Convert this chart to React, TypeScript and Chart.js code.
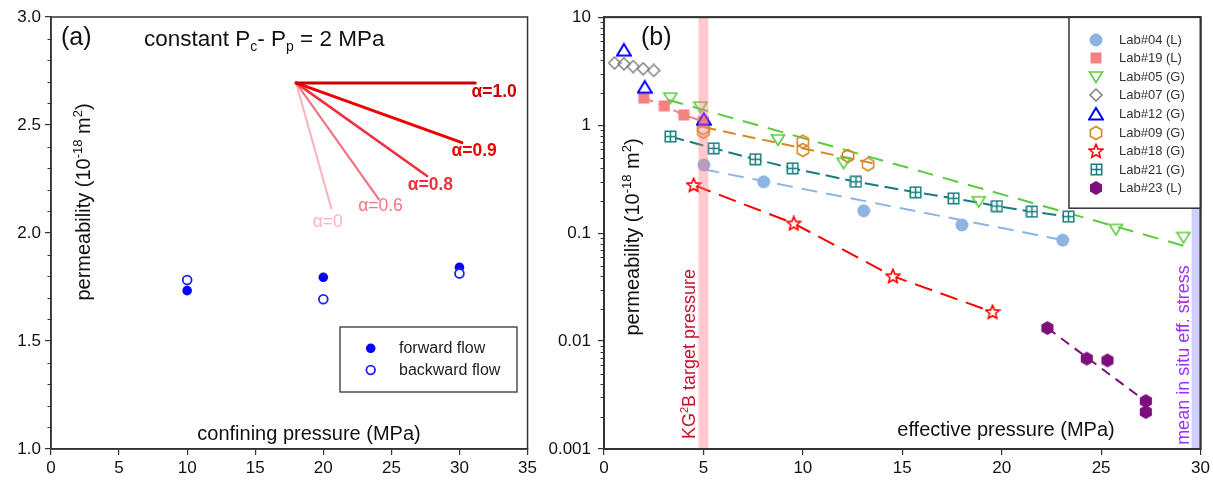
import React, { useEffect, useRef } from 'react';
import { Chart, registerables } from 'chart.js';
Chart.register(...registerables);

const FONT = "'Liberation Sans', Arial, Helvetica, sans-serif";

// ---------- Panel (a) data ----------
const confiningPressure = [10, 20, 30];
const forwardFlow = [1.733, 1.795, 1.841];
const backwardFlow = [1.782, 1.693, 1.813];
const fanOriginX = 18.0;
const fanOriginY = 2.695;
const fanAlphas = ['1.0', '0.9', '0.8', '0.6', '0'];
const fanEndX = [31.16, 30.18, 27.62, 24.08, 20.59];
const fanEndY = [2.695, 2.418, 2.264, 2.156, 2.114];
const fanLabelX = [32.55, 31.08, 27.86, 24.2, 20.32];
const fanLabelY = [2.65, 2.38, 2.222, 2.122, 2.051];
const xTicksA = [0, 5, 10, 15, 20, 25, 30, 35];
const yTicksA = [1.0, 1.5, 2.0, 2.5, 3.0];
const yTickLabelsA = ['1.0', '1.5', '2.0', '2.5', '3.0'];

// ---------- Panel (b) data ----------
const labNames = ['Lab#04 (L)', 'Lab#19 (L)', 'Lab#05 (G)', 'Lab#07 (G)', 'Lab#12 (G)', 'Lab#09 (G)', 'Lab#18 (G)', 'Lab#21 (G)', 'Lab#23 (L)'];
const lab04X = [5.02, 8.03, 13.06, 18.0, 23.07];
const lab04Y = [0.428, 0.299, 0.161, 0.119, 0.086];
const lab19X = [2.0, 3.04, 4.01, 5.0];
const lab19Y = [1.78, 1.51, 1.245, 1.08];
const lab05X = [3.34, 4.85, 8.75, 12.05, 18.84, 25.74, 29.14];
const lab05Y = [1.78, 1.47, 0.73, 0.444, 0.195, 0.108, 0.091];
const lab07X = [0.53, 1.0, 1.47, 1.97, 2.5];
const lab07Y = [3.76, 3.7, 3.49, 3.33, 3.21];
const lab12X = [1.0, 2.05, 5.02];
const lab12Y = [4.96, 2.25, 1.135];
const lab09X = [5.0, 5.0, 10.0, 10.0, 12.27, 13.28];
const lab09Y = [0.937, 0.87, 0.703, 0.589, 0.518, 0.434];
const lab18X = [4.51, 9.54, 14.53, 19.54];
const lab18Y = [0.279, 0.123, 0.0399, 0.0186];
const lab21X = [3.34, 5.52, 7.61, 9.49, 12.67, 15.67, 17.58, 19.76, 21.52, 23.36];
const lab21Y = [0.783, 0.61, 0.483, 0.398, 0.299, 0.239, 0.21, 0.178, 0.158, 0.142];
const lab23X = [22.3, 24.28, 25.32, 27.25, 27.25];
const lab23Y = [0.0132, 0.00687, 0.00662, 0.00278, 0.0022];
// trend lines (end points)
const trend04X = [5.0, 23.1];
const trend04Y = [0.39, 0.086];
const trend05X = [3.2, 29.3];
const trend05Y = [1.72, 0.075];
const trend09X = [5.0, 13.6];
const trend09Y = [0.96, 0.44];
const trend23X = [22.3, 27.2];
const trend23Y = [0.0132, 0.0028];
// marker bands
const targetPressure = [4.75, 5.25];
const inSituStress = [29.55, 30];
const xTicksB = [0, 5, 10, 15, 20, 25, 30];
const yTicksB = [0.001, 0.01, 0.1, 1, 10];
const yTickLabelsB = ['0.001', '0.01', '0.1', '1', '10'];

const pts = (xs: number[], ys: number[]) => xs.map((x, i) => ({ x, y: ys[i] }));

type Seg = { t: string; size: number; dy?: number; bold?: boolean };
function segFont(s: Seg) {
  return `${s.bold ? 'bold ' : ''}${s.size}px ${FONT}`;
}
function richWidth(ctx: CanvasRenderingContext2D, segs: Seg[]) {
  let w = 0;
  for (const s of segs) {
    ctx.font = segFont(s);
    w += ctx.measureText(s.t).width;
  }
  return w;
}
function drawRich(ctx: CanvasRenderingContext2D, segs: Seg[], x: number, y: number, align: 'left' | 'center', color: string) {
  ctx.fillStyle = color;
  ctx.textBaseline = 'alphabetic';
  ctx.textAlign = 'left';
  let cx = align === 'center' ? x - richWidth(ctx, segs) / 2 : x;
  for (const s of segs) {
    ctx.font = segFont(s);
    ctx.fillText(s.t, cx, y + (s.dy || 0));
    cx += ctx.measureText(s.t).width;
  }
}
function drawRotated(ctx: CanvasRenderingContext2D, segs: Seg[], cx: number, cy: number, color: string, base: number) {
  ctx.save();
  ctx.translate(cx, cy);
  ctx.rotate(-Math.PI / 2);
  drawRich(ctx, segs, 0, base, 'center', color);
  ctx.restore();
}

function mk(size: number, draw: (c: CanvasRenderingContext2D, s: number) => void) {
  const cv = document.createElement('canvas');
  cv.width = size;
  cv.height = size;
  const c = cv.getContext('2d')!;
  draw(c, size);
  return cv;
}
function hexPath(c: CanvasRenderingContext2D, cx: number, cy: number, r: number) {
  c.beginPath();
  for (let k = 0; k < 6; k++) {
    const a = (-90 + 60 * k) * Math.PI / 180;
    const px = cx + r * Math.cos(a);
    const py = cy + r * Math.sin(a);
    if (k === 0) c.moveTo(px, py); else c.lineTo(px, py);
  }
  c.closePath();
}
function starPath(c: CanvasRenderingContext2D, cx: number, cy: number, ro: number, ri: number) {
  c.beginPath();
  for (let k = 0; k < 10; k++) {
    const r = k % 2 === 0 ? ro : ri;
    const a = (-90 + 36 * k) * Math.PI / 180;
    const px = cx + r * Math.cos(a);
    const py = cy + r * Math.sin(a);
    if (k === 0) c.moveTo(px, py); else c.lineTo(px, py);
  }
  c.closePath();
}

const C04 = '#8db4e2';
const C19 = '#f4807f';
const C05 = '#5ccc3e';
const C07 = '#808080';
const C12 = '#0000ff';
const C09 = '#d4892a';
const C18 = '#ff0000';
const C21 = '#167d7f';
const C23 = '#7d0f7d';

function makeMarkers() {
  return [
    mk(14, (c) => { c.fillStyle = C04; c.beginPath(); c.arc(7, 7, 6.5, 0, Math.PI * 2); c.fill(); }),
    mk(12, (c) => { c.fillStyle = C19; c.fillRect(0.5, 0.5, 11, 11); }),
    mk(16, (c) => { c.strokeStyle = C05; c.lineWidth = 1.6; c.beginPath(); c.moveTo(1.5, 3); c.lineTo(14.5, 3); c.lineTo(8, 13.5); c.closePath(); c.stroke(); }),
    mk(14, (c) => { c.strokeStyle = C07; c.lineWidth = 1.5; c.beginPath(); c.moveTo(7, 1); c.lineTo(13, 7); c.lineTo(7, 13); c.lineTo(1, 7); c.closePath(); c.stroke(); }),
    mk(16, (c) => { c.strokeStyle = C12; c.lineWidth = 2; c.beginPath(); c.moveTo(8, 2); c.lineTo(15, 13.5); c.lineTo(1, 13.5); c.closePath(); c.stroke(); }),
    mk(16, (c) => { c.strokeStyle = C09; c.lineWidth = 1.6; hexPath(c, 8, 8, 6.5); c.stroke(); }),
    mk(16, (c) => { c.fillStyle = '#fff'; c.strokeStyle = C18; c.lineWidth = 1.6; starPath(c, 8, 8.5, 7.2, 3.2); c.fill(); c.stroke(); }),
    mk(13, (c) => {
      c.fillStyle = '#fff'; c.fillRect(1, 1, 11, 11);
      c.strokeStyle = C21; c.lineWidth = 1.5; c.strokeRect(1.25, 1.25, 10.5, 10.5);
      c.beginPath(); c.moveTo(6.5, 1); c.lineTo(6.5, 12); c.moveTo(1, 6.5); c.lineTo(12, 6.5); c.stroke();
    }),
    mk(16, (c) => { c.fillStyle = C23; hexPath(c, 8, 8, 7); c.fill(); }),
  ];
}

function frame(chart: any, color: string, lw: number) {
  const { ctx, chartArea: a } = chart;
  ctx.save();
  ctx.strokeStyle = color;
  ctx.lineWidth = lw;
  ctx.strokeRect(a.left, a.top, a.right - a.left, a.bottom - a.top);
  ctx.restore();
}
function minorTicks(chart: any, values: number[], len: number) {
  const { ctx, chartArea: a } = chart;
  const y = chart.scales.y;
  ctx.save();
  ctx.strokeStyle = '#333';
  ctx.lineWidth = 1;
  for (const v of values) {
    const py = Math.round(y.getPixelForValue(v)) + 0.5;
    ctx.beginPath();
    ctx.moveTo(a.left, py);
    ctx.lineTo(a.left - len, py);
    ctx.stroke();
  }
  ctx.restore();
}

function axisCommon(fit: (s: any) => void, pad: number) {
  return {
    ticks: { color: '#111', font: { size: 17, family: FONT }, padding: pad, maxRotation: 0, autoSkip: false },
    grid: { drawOnChartArea: false, drawTicks: true, tickLength: 6, color: '#333', lineWidth: 1.2 },
    border: { display: true, color: '#333', width: 1.5 },
    afterFit: fit,
  };
}

export default function App() {
  const refA = useRef<HTMLCanvasElement>(null);
  const refB = useRef<HTMLCanvasElement>(null);

  useEffect(() => {
    Chart.defaults.font.family = FONT;
    const charts: Chart[] = [];

    // ---------------- Panel (a) ----------------
    const fanColors = ['#cc0000', '#ee0000', '#f0303f', '#f27482', '#f9b4bc'];
    const fanWidths = [3, 3, 2.6, 2.2, 2];
    const fanBold = [true, true, true, false, false];
    const minorA: number[] = [];
    for (let v = 1.1; v < 3.0; v += 0.1) {
      const r = Math.round(v * 10) / 10;
      if (Math.abs(r * 2 - Math.round(r * 2)) > 1e-6) minorA.push(r);
    }

    const pluginA = {
      id: 'decorA',
      afterDraw(chart: any) {
        const { ctx } = chart;
        const xs = chart.scales.x;
        const ys = chart.scales.y;
        frame(chart, '#333', 1.5);
        minorTicks(chart, minorA, 3.5);
        fanAlphas.forEach((a, i) => {
          ctx.save();
          ctx.font = `${fanBold[i] ? 'bold ' : ''}17.5px ${FONT}`;
          ctx.fillStyle = fanColors[i];
          ctx.textAlign = 'center';
          ctx.textBaseline = 'middle';
          ctx.fillText('\u03b1=' + a, xs.getPixelForValue(fanLabelX[i]), ys.getPixelForValue(fanLabelY[i]));
          ctx.restore();
        });
        drawRich(ctx, [{ t: '(a)', size: 25 }], 61, 45, 'left', '#111');
        drawRich(ctx, [
          { t: 'constant P', size: 22.5 },
          { t: 'c', size: 14, dy: 5 },
          { t: '- P', size: 22.5 },
          { t: 'p', size: 14, dy: 5 },
          { t: ' = 2 MPa', size: 22.5 },
        ], 144, 46, 'left', '#111');
        drawRotated(ctx, [
          { t: 'permeability (10', size: 20 },
          { t: '-18', size: 13, dy: -8 },
          { t: ' m', size: 20 },
          { t: '2', size: 13, dy: -8 },
          { t: ')', size: 20 },
        ], 83, 202, '#111', 7);
        drawRich(ctx, [{ t: 'confining pressure (MPa)', size: 20 }], 309, 440, 'center', '#111');
        ctx.save();
        ctx.fillStyle = '#fff';
        ctx.fillRect(340, 327, 177, 65);
        ctx.strokeStyle = '#333';
        ctx.lineWidth = 1.3;
        ctx.strokeRect(340, 327, 177, 65);
        ctx.fillStyle = '#0000ff';
        ctx.beginPath(); ctx.arc(370.7, 348.3, 4.8, 0, Math.PI * 2); ctx.fill();
        ctx.strokeStyle = '#2020ff'; ctx.lineWidth = 1.8;
        ctx.beginPath(); ctx.arc(370.7, 370, 4.3, 0, Math.PI * 2); ctx.stroke();
        ctx.fillStyle = '#222';
        ctx.font = `16px ${FONT}`;
        ctx.textAlign = 'left';
        ctx.textBaseline = 'middle';
        ctx.fillText('forward flow', 399, 348.5);
        ctx.fillText('backward flow', 399, 370.5);
        ctx.restore();
      },
    };

    const fanSets = fanAlphas.map((a, i) => ({
      label: '\u03b1=' + a,
      data: [{ x: fanOriginX, y: fanOriginY }, { x: fanEndX[i], y: fanEndY[i] }],
      showLine: true,
      borderColor: fanColors[i],
      borderWidth: fanWidths[i],
      pointRadius: 0,
      borderCapStyle: 'round' as const,
    }));

    if (refA.current) {
      const chartA = new Chart(refA.current, {
        type: 'scatter',
        data: {
          datasets: [
            { label: 'backward flow', data: pts(confiningPressure, backwardFlow), pointStyle: 'circle', pointRadius: 4.4, borderWidth: 1.8, borderColor: '#2020ff', backgroundColor: '#fff' },
            { label: 'forward flow', data: pts(confiningPressure, forwardFlow), pointStyle: 'circle', pointRadius: 4.8, borderWidth: 0, borderColor: '#0000ff', backgroundColor: '#0000ff' },
            ...fanSets,
          ] as any,
        },
        options: {
          responsive: false,
          animation: false,
          devicePixelRatio: 1,
          events: [],
          layout: { padding: { left: 0, right: 11, top: 17, bottom: 0 } },
          plugins: { legend: { display: false }, tooltip: { enabled: false } },
          scales: {
            x: {
              type: 'linear', min: 0, max: 35,
              afterBuildTicks: (s: any) => { s.ticks = xTicksA.map((v) => ({ value: v })); },
              ...axisCommon((s: any) => { s.height = 32; }, 3),
            } as any,
            y: {
              type: 'linear', min: 1, max: 3,
              afterBuildTicks: (s: any) => { s.ticks = yTicksA.map((v) => ({ value: v })); },
              ...axisCommon((s: any) => { s.width = 51; }, 4),
            } as any,
          },
        },
        plugins: [pluginA],
      });
      const ya: any = chartA.options.scales!.y;
      ya.ticks.callback = (v: number) => {
        const i = yTicksA.findIndex((t) => Math.abs(t - v) < 1e-9);
        return i >= 0 ? yTickLabelsA[i] : '';
      };
      chartA.update();
      charts.push(chartA);
    }

    // ---------------- Panel (b) ----------------
    const markers = makeMarkers();
    const minorB: number[] = [];
    for (let d = 0; d < 4; d++) {
      for (let m = 2; m <= 9; m++) minorB.push(m * yTicksB[d]);
    }

    const pluginB = {
      id: 'decorB',
      afterDatasetsDraw(chart: any) {
        const { ctx, chartArea: a } = chart;
        const xs = chart.scales.x;
        ctx.save();
        ctx.fillStyle = 'rgba(255,120,135,0.4)';
        const p0 = xs.getPixelForValue(targetPressure[0]);
        const p1 = xs.getPixelForValue(targetPressure[1]);
        ctx.fillRect(p0, a.top, p1 - p0, a.bottom - a.top);
        ctx.fillStyle = 'rgba(120,120,255,0.35)';
        const q0 = xs.getPixelForValue(inSituStress[0]);
        const q1 = xs.getPixelForValue(inSituStress[1]);
        ctx.fillRect(q0, a.top, q1 - q0, a.bottom - a.top);
        ctx.restore();
      },
      afterDraw(chart: any) {
        const { ctx, chartArea: a } = chart;
        frame(chart, '#333', 1.8);
        minorTicks(chart, minorB, 3.5);
        drawRich(ctx, [{ t: '(b)', size: 25 }], 101, 45, 'left', '#111');
        drawRotated(ctx, [
          { t: 'permeability (10', size: 20 },
          { t: '-18', size: 13, dy: -8 },
          { t: ' m', size: 20 },
          { t: '2', size: 13, dy: -8 },
          { t: ')', size: 20 },
        ], 92, 237, '#111', 7);
        drawRich(ctx, [{ t: 'effective pressure (MPa)', size: 20 }], 466, 436, 'center', '#111');
        drawRotated(ctx, [
          { t: 'KG', size: 18 },
          { t: '2', size: 11, dy: -7 },
          { t: 'B target pressure', size: 18 },
        ], 148, 354, '#c8102e', 6.5);
        drawRotated(ctx, [{ t: 'mean in situ eff. stress', size: 18 }], 642, 355, '#9b30ff', 6.5);
        const lx = 529, ly = a.top, lw = a.right - 529, lh = 191;
        ctx.save();
        ctx.fillStyle = '#fff';
        ctx.fillRect(lx, ly, lw, lh);
        ctx.strokeStyle = '#333';
        ctx.lineWidth = 1.5;
        ctx.strokeRect(lx, ly, lw, lh);
        ctx.font = `13px ${FONT}`;
        ctx.fillStyle = '#333';
        ctx.textAlign = 'left';
        ctx.textBaseline = 'middle';
        labNames.forEach((n, i) => {
          const yy = 39.5 + i * 18.6;
          const m = markers[i];
          ctx.drawImage(m, Math.round(556 - m.width / 2), Math.round(yy - m.height / 2));
          ctx.fillText(n, 579, yy + 0.5);
        });
        ctx.restore();
        frame(chart, '#333', 1.8);
      },
    };

    const mset = (label: string, xs: number[], ys: number[], mi: number, extra: any = {}) => ({
      label, data: pts(xs, ys), pointStyle: markers[mi], pointRadius: 6, showLine: false, ...extra,
    });
    const trend = (label: string, xs: number[], ys: number[], color: string, dash: number[]) => ({
      label, data: pts(xs, ys), showLine: true, borderColor: color, borderWidth: 2, borderDash: dash, pointRadius: 0,
    });

    if (refB.current) {
      const chartB = new Chart(refB.current, {
        type: 'scatter',
        data: {
          datasets: [
            mset('Lab#12 (G)', lab12X, lab12Y, 4),
            mset('Lab#04 (L)', lab04X, lab04Y, 0),
            mset('Lab#19 (L)', lab19X, lab19Y, 1, { showLine: true, borderColor: C19, borderWidth: 2, borderDash: [10, 6] }),
            mset('Lab#05 (G)', lab05X, lab05Y, 2),
            mset('Lab#07 (G)', lab07X, lab07Y, 3),
            mset('Lab#09 (G)', lab09X, lab09Y, 5),
            mset('Lab#18 (G)', lab18X, lab18Y, 6, { showLine: true, borderColor: C18, borderWidth: 2, borderDash: [18, 9] }),
            mset('Lab#21 (G)', lab21X, lab21Y, 7, { showLine: true, borderColor: C21, borderWidth: 2, borderDash: [14, 6] }),
            mset('Lab#23 (L)', lab23X, lab23Y, 8),
            trend('fit 04', trend04X, trend04Y, C04, [16, 9]),
            trend('fit 05', trend05X, trend05Y, C05, [16, 10]),
            trend('fit 09', trend09X, trend09Y, C09, [13, 7]),
            trend('fit 23', trend23X, trend23Y, C23, [10, 7]),
          ] as any,
        },
        options: {
          responsive: false,
          animation: false,
          devicePixelRatio: 1,
          events: [],
          layout: { padding: { left: 0, right: 12, top: 17, bottom: 0 } },
          plugins: { legend: { display: false }, tooltip: { enabled: false } },
          scales: {
            x: {
              type: 'linear', min: 0, max: 30,
              afterBuildTicks: (s: any) => { s.ticks = xTicksB.map((v) => ({ value: v })); },
              ...axisCommon((s: any) => { s.height = 32; }, 3),
            } as any,
            y: {
              type: 'logarithmic', min: 0.001, max: 10,
              afterBuildTicks: (s: any) => { s.ticks = yTicksB.map((v) => ({ value: v })); },
              ...axisCommon((s: any) => { s.width = 64; }, 7),
            } as any,
          },
        },
        plugins: [pluginB],
      });
      const yb: any = chartB.options.scales!.y;
      yb.ticks.callback = (v: number) => {
        const i = yTicksB.findIndex((t) => Math.abs(t - v) / t < 1e-6);
        return i >= 0 ? yTickLabelsB[i] : '';
      };
      chartB.update();
      charts.push(chartB);
    }

    return () => { charts.forEach((c) => c.destroy()); };
  }, []);

  return (
    <div style={{ position: 'fixed', left: 0, top: 0, width: 1213, height: 481, background: '#fff', overflow: 'hidden' }}>
      <canvas ref={refA} width={540} height={481} style={{ position: 'absolute', left: 0, top: 0, width: 540, height: 481 }} />
      <canvas ref={refB} width={673} height={481} style={{ position: 'absolute', left: 540, top: 0, width: 673, height: 481 }} />
    </div>
  );
}
